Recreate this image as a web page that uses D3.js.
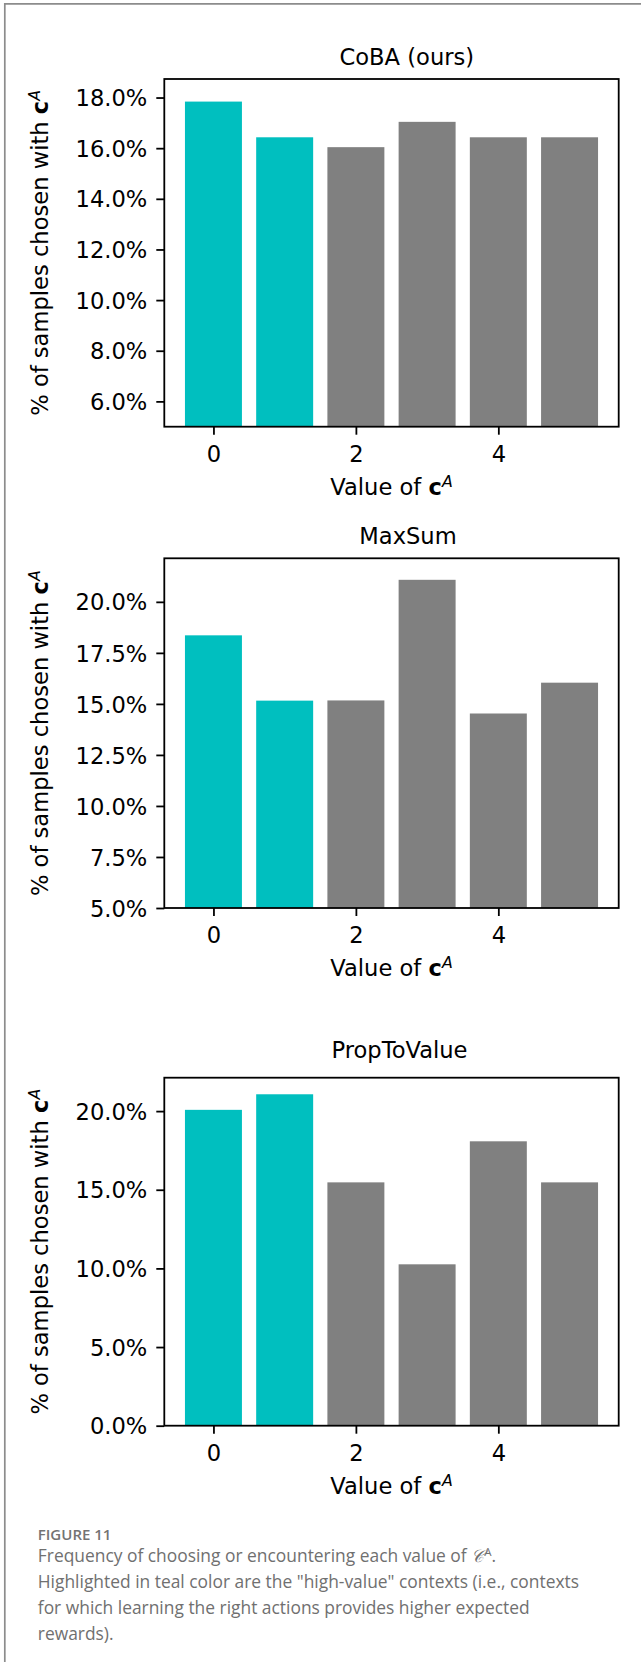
<!DOCTYPE html>
<html>
<head>
<meta charset="utf-8">
<script src="https://cdn.jsdelivr.net/npm/d3@7"></script>
<style>
  html, body { margin: 0; padding: 0; background: #fff; }
  svg { display: block; }
</style>
</head>
<body>
<svg id="fig" width="641" height="1662"></svg>
<script>
// ---- data -------------------------------------------------------------
const categories = [0, 1, 2, 3, 4, 5];          // value of c^A
const xTickValues = [0, 2, 4];
const panelTitles = ["CoBA (ours)", "MaxSum", "PropToValue"];
const cobaValues = [17.84, 16.43, 16.04, 17.04, 16.43, 16.43];
const maxSumValues = [18.36, 15.16, 15.17, 21.08, 14.53, 16.04];
const propToValueValues = [20.08, 21.07, 15.47, 10.26, 18.08, 15.47];
const highValueContext = [true, true, false, false, false, false];
const yFloors = [5, 5, 0];
const yTicksCoba = [6, 8, 10, 12, 14, 16, 18];
const yTicksMaxSum = [5, 7.5, 10, 12.5, 15, 17.5, 20];
const yTicksPropToValue = [0, 5, 10, 15, 20];
const captionHead = "FIGURE 11";
const captionLines = [
  ["Frequency of choosing or encountering each value of ", "𝒞", "A", "."],
  ["Highlighted in teal color are the \"high-value\" contexts (i.e., contexts"],
  ["for which learning the right actions provides higher expected"],
  ["rewards)."]
];

const seriesList = [cobaValues, maxSumValues, propToValueValues];
const tickList = [yTicksCoba, yTicksMaxSum, yTicksPropToValue];

// ---- layout -----------------------------------------------------------
const FONT = "DejaVu Sans, sans-serif";
const FS = 22.6;
const axLeft = 164.3, axRight = 618.7;
const panels = [
  { top: 79.0,   bottom: 426.7,  titleX: 406.8, titleY: 65.0 },
  { top: 558.3,  bottom: 908.0,  titleX: 408.0, titleY: 543.5 },
  { top: 1077.7, bottom: 1425.7, titleX: 399.5, titleY: 1058.3 }
];
const barWidth = 0.8;
const xPad = (categories.length - 1 + barWidth) * 0.05;
const TEAL = "#00bfbf", GREY = "#808080";
const LW = 1.8, TICK = 8;

const svg = d3.select("#fig");

// outer frame of the figure block
svg.append("path")
  .attr("d", "M4.8,1662 V3.9 H641")
  .attr("fill", "none").attr("stroke", "#8c8c8c").attr("stroke-width", 1.7);

const x = d3.scaleLinear()
  .domain([-barWidth / 2 - xPad, categories.length - 1 + barWidth / 2 + xPad])
  .range([axLeft, axRight]);

panels.forEach((p, k) => {
  const values = seriesList[k];
  const y = d3.scaleLinear()
    .domain([yFloors[k], d3.max(values) * 1.05])
    .range([p.bottom, p.top]);

  const g = svg.append("g");

  // bars
  g.selectAll("rect.bar").data(categories).join("rect")
    .attr("class", "bar")
    .attr("x", d => x(d - barWidth / 2))
    .attr("width", d => x(d + barWidth / 2) - x(d - barWidth / 2))
    .attr("y", d => y(values[d]))
    .attr("height", d => y(yFloors[k]) - y(values[d]))
    .attr("fill", d => highValueContext[d] ? TEAL : GREY);

  // y axis
  const yAxis = d3.axisLeft(y)
    .tickValues(tickList[k])
    .tickFormat(v => v.toFixed(1) + "%")
    .tickSize(TICK).tickSizeOuter(0).tickPadding(9);
  const ya = g.append("g").attr("transform", `translate(${axLeft},0)`).call(yAxis);

  // x axis
  const xAxis = d3.axisBottom(x)
    .tickValues(xTickValues)
    .tickFormat(d3.format("d"))
    .tickSize(TICK).tickSizeOuter(0).tickPadding(10);
  const xa = g.append("g").attr("transform", `translate(0,${p.bottom})`).call(xAxis);

  [ya, xa].forEach(a => {
    a.select(".domain").remove();
    a.selectAll(".tick line").attr("stroke", "#000").attr("stroke-width", LW);
    a.selectAll(".tick text")
      .attr("fill", "#000")
      .style("font-family", FONT).style("font-size", FS + "px");
  });
  ya.selectAll(".tick text").attr("dy", "0.36em");
  xa.selectAll(".tick text").attr("dy", null).attr("y", 35);

  // axes frame
  g.append("rect")
    .attr("x", axLeft).attr("y", p.top)
    .attr("width", axRight - axLeft).attr("height", p.bottom - p.top)
    .attr("fill", "none").attr("stroke", "#000").attr("stroke-width", LW);

  // title
  g.append("text")
    .attr("x", p.titleX).attr("y", p.titleY)
    .attr("text-anchor", "middle")
    .style("font-family", FONT).style("font-size", FS + "px")
    .text(panelTitles[k]);

  // x label
  const xl = g.append("text")
    .attr("x", (axLeft + axRight) / 2).attr("y", p.bottom + 68)
    .attr("text-anchor", "middle")
    .style("font-family", FONT).style("font-size", FS + "px");
  xl.append("tspan").text("Value of ");
  xl.append("tspan").attr("font-weight", "bold").text("c");
  xl.append("tspan").attr("font-style", "italic").attr("font-size", FS * 0.7 + "px")
    .attr("dy", -FS * 0.36).text("A");

  // y label
  const yl = g.append("text")
    .attr("transform", `translate(48,${(p.top + p.bottom) / 2}) rotate(-90)`)
    .attr("text-anchor", "middle")
    .style("font-family", FONT).style("font-size", FS + "px");
  yl.append("tspan").text("% of samples chosen with ");
  yl.append("tspan").attr("font-weight", "bold").text("c");
  yl.append("tspan").attr("font-style", "italic").attr("font-size", FS * 0.7 + "px")
    .attr("dy", -FS * 0.36).text("A");
});

// caption
const CAP_FONT = "'Open Sans', 'Noto Sans', sans-serif";
svg.append("text")
  .attr("x", 37.8).attr("y", 1539.5)
  .attr("fill", "#737373")
  .style("font-family", CAP_FONT).style("font-size", "15px").style("font-weight", 600)
  .text(captionHead);

const capBase = [1562, 1588, 1614, 1640];
captionLines.forEach((parts, i) => {
  const t = svg.append("text")
    .attr("x", 37.8).attr("y", capBase[i])
    .attr("fill", "#707070")
    .style("font-family", CAP_FONT).style("font-size", "17.4px");
  if (parts.length === 1) {
    t.text(parts[0]);
  } else {
    t.append("tspan").text(parts[0]);
    t.append("tspan").style("font-family", "'DejaVu Serif', serif").attr("font-style", "italic").text(parts[1]);
    t.append("tspan").attr("font-size", "11.5px").attr("dy", -6.5).text(parts[2]);
    t.append("tspan").attr("dy", 6.5).text(parts[3]);
  }
});
</script>
</body>
</html>
